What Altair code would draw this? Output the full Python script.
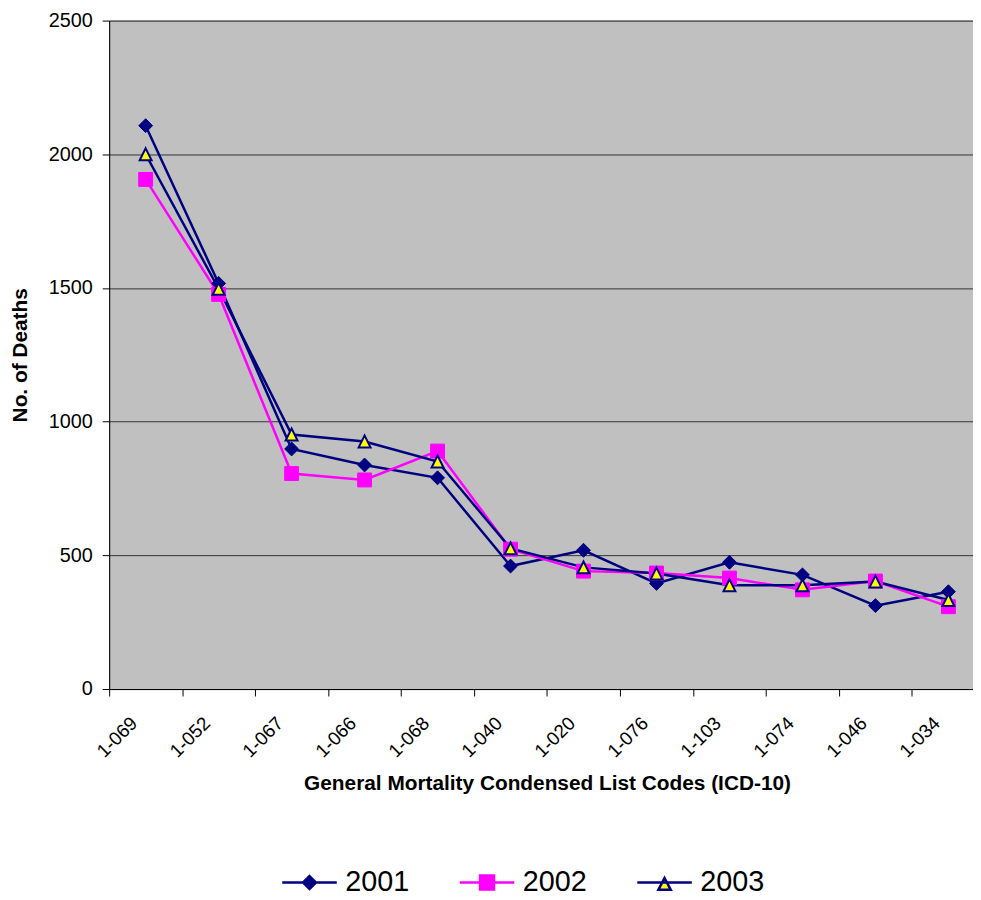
import altair as alt
import pandas as pd

codes = ["1-069", "1-052", "1-067", "1-066", "1-068", "1-040",
         "1-020", "1-076", "1-103", "1-074", "1-046", "1-034"]
years = ["2001", "2002", "2003"]
d2001 = [2107, 1517, 898, 838, 790, 460, 519, 395, 474, 427, 312, 364]
d2002 = [1906, 1476, 806, 782, 890, 523, 441, 434, 415, 371, 404, 308]
d2003 = [2000, 1497, 952, 926, 851, 526, 455, 432, 388, 388, 402, 333]
y_ticks = [0, 500, 1000, 1500, 2000, 2500]

series = {"2001": d2001, "2002": d2002, "2003": d2003}
rows = []
for yr in years:
    for c, v in zip(codes, series[yr]):
        rows.append({"Code": c, "Year": yr, "Deaths": v})
df = pd.DataFrame(rows)

NAVY = "#000080"
MAG = "#FF00FF"
YEL = "#FFFF00"
FONT = "Liberation Sans"

line_col = {"2001": NAVY, "2002": MAG, "2003": NAVY}
fill_col = {"2001": NAVY, "2002": MAG, "2003": YEL}
stroke_col = {"2001": NAVY, "2002": MAG, "2003": NAVY}
marker = {"2001": "diamond", "2002": "square", "2003": "M0,-1L1,1L-1,1Z"}
msize = {"2001": 196, "2002": 196, "2003": 144}
mstroke = {"2001": 1, "2002": 1, "2003": 2}

legend_paths = [
    "M-1,0L1,0M0,-0.236L0.236,0L0,0.236L-0.236,0Z",
    "M-1,0L1,0M-0.255,-0.255L0.255,-0.255L0.255,0.255L-0.255,0.255Z",
    "M-1,0L1,0M0,-0.164L0.227,0.27L-0.227,0.27Z",
]

x_enc = alt.X(
    "Code:N", sort=codes,
    scale=alt.Scale(type="band", domain=codes, paddingInner=0, paddingOuter=0),
    axis=alt.Axis(
        title="General Mortality Condensed List Codes (ICD-10)",
        labelAngle=-45, labelAlign="right", labelBaseline="middle",
        labelFontSize=19, labelPadding=24, labelOffset=-12,
        tickBand="extent", tickSize=7, grid=False,
        titleFontSize=21, titleFontWeight="bold", titlePadding=12,
    ),
)
y_enc = alt.Y(
    "Deaths:Q",
    scale=alt.Scale(domain=[0, 2500], nice=False),
    axis=alt.Axis(
        title="No. of Deaths", values=y_ticks, format="d", grid=True, gridColor="#333333",
        gridWidth=1, tickSize=7, labelFontSize=20, labelPadding=10,
        titleFontSize=21, titleFontWeight="bold", titlePadding=18,
    ),
)

base = alt.Chart(df)
layers = []
for yr in years:
    layers.append(
        base.transform_filter(alt.datum.Year == yr)
        .mark_line(color=line_col[yr], strokeWidth=2.5)
        .encode(x=x_enc, y=y_enc)
    )
for yr in years:
    layers.append(
        base.transform_filter(alt.datum.Year == yr)
        .mark_point(shape=marker[yr], size=msize[yr], filled=True, fill=fill_col[yr],
                    stroke=stroke_col[yr], strokeWidth=mstroke[yr], opacity=1)
        .encode(x=x_enc, y=y_enc)
    )

legend = alt.Legend(
    title=None, orient="none", legendX=173, legendY=840, direction="horizontal",
    labelFontSize=29, labelFont=FONT, labelColor="black", symbolSize=3025,
    symbolStrokeWidth=2.5, symbolOpacity=1, columnPadding=45, labelOffset=7, padding=0,
)
legend_layer = (
    base.transform_filter("false")
    .mark_point(filled=True, opacity=1)
    .encode(
        x=x_enc, y=y_enc,
        shape=alt.Shape("Year:N", scale=alt.Scale(domain=years, range=legend_paths), legend=legend),
        fill=alt.Fill("Year:N", scale=alt.Scale(domain=years, range=[NAVY, MAG, YEL]), legend=legend),
        stroke=alt.Stroke("Year:N", scale=alt.Scale(domain=years, range=[NAVY, MAG, NAVY]), legend=legend),
    )
)

chart = (
    alt.layer(*layers, legend_layer)
    .properties(
        width=883, height=674,
        autosize=alt.AutoSizeParams(type="none"),
        padding={"left": 102, "top": 9, "right": -12, "bottom": 208},
    )
    .configure_view(fill="#C0C0C0", stroke="#808080", strokeWidth=1)
    .configure_axis(
        labelFont=FONT, titleFont=FONT, labelColor="black", titleColor="black",
        domainColor="black", tickColor="black", domainWidth=1,
    )
)

chart.save("out.html", embed_options={"renderer": "svg", "actions": False})
